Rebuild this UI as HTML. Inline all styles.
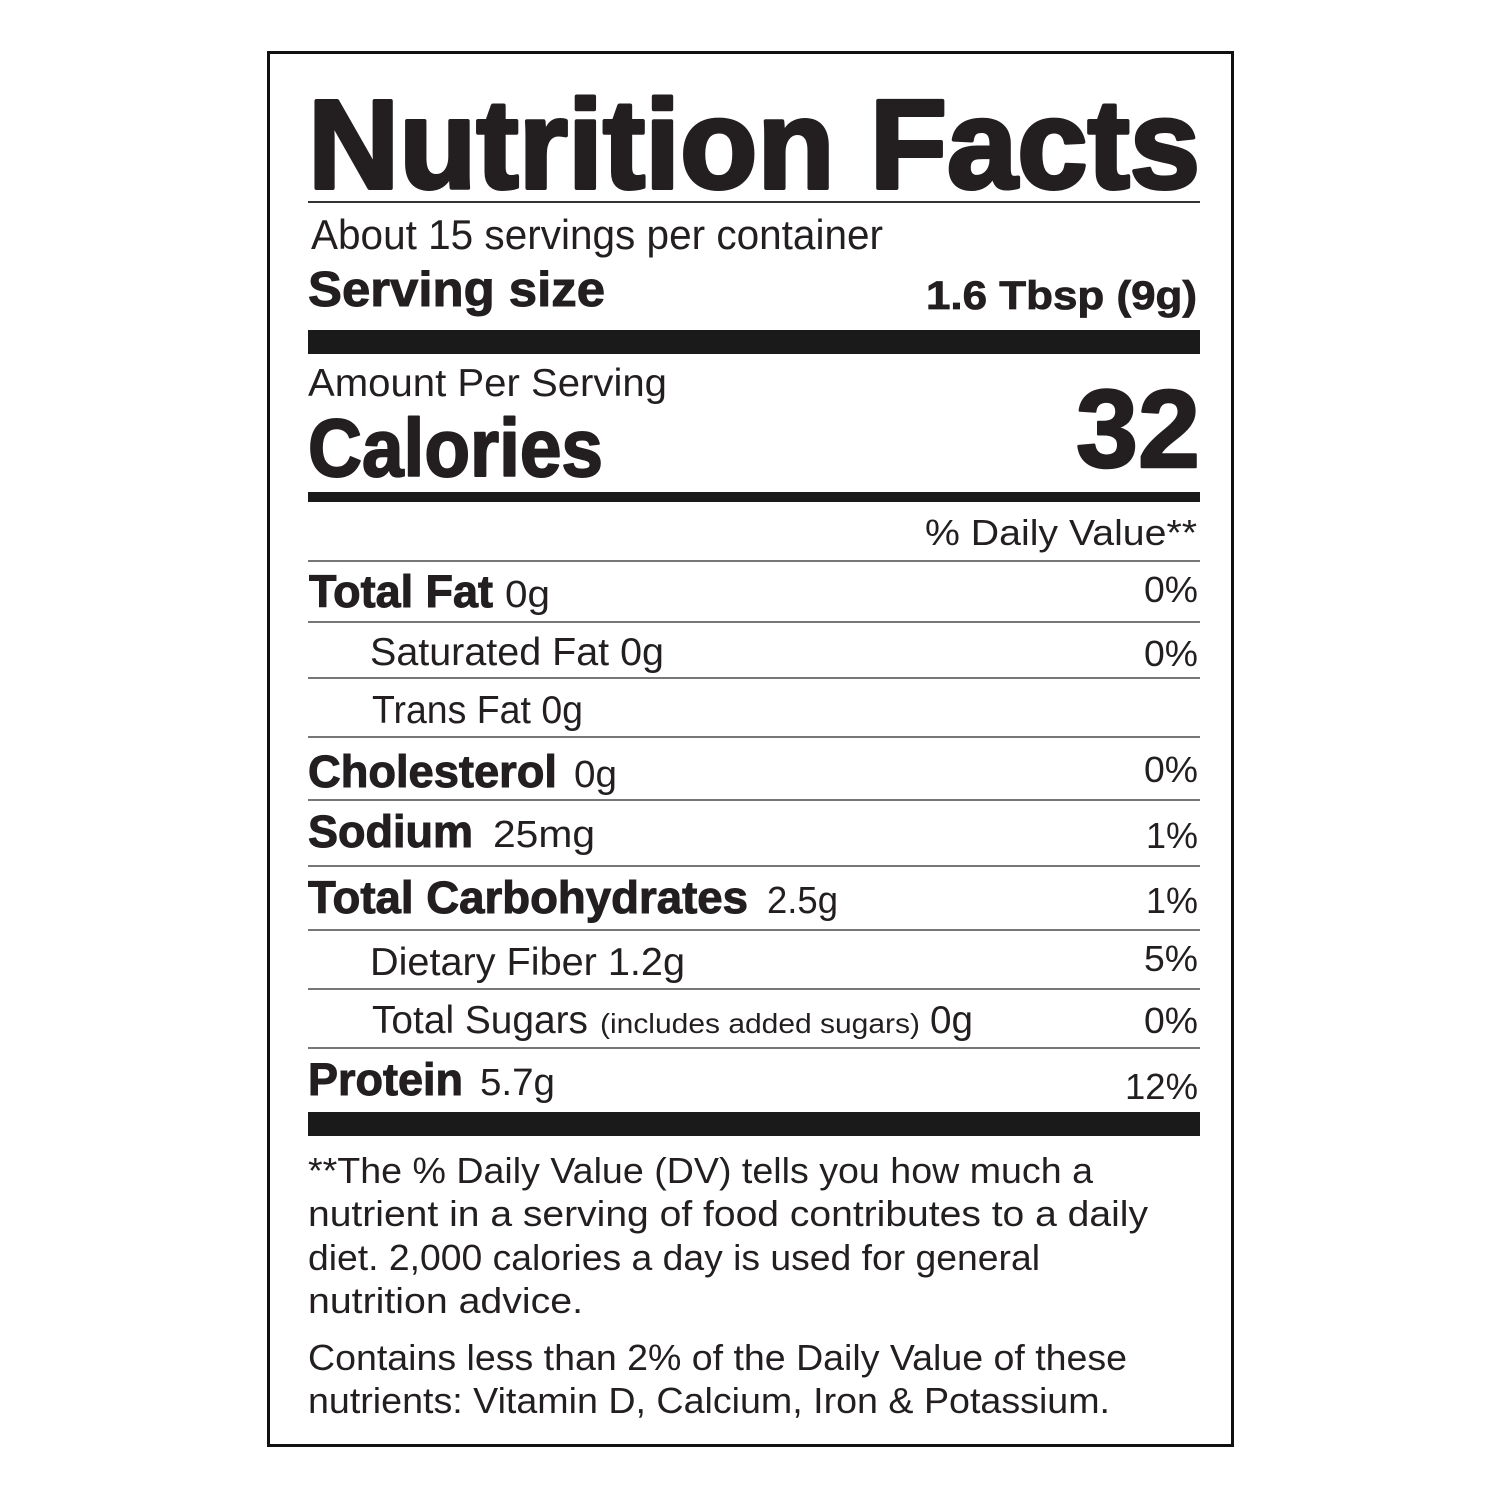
<!DOCTYPE html>
<html>
<head>
<meta charset="utf-8">
<style>
  html,body{margin:0;padding:0;background:#fff;}
  svg{display:block;}
  text{font-family:"Liberation Sans", sans-serif; fill:#231f20;}
  .b{font-weight:bold;}
</style>
</head>
<body>
<svg width="1500" height="1500" viewBox="0 0 1500 1500" xmlns="http://www.w3.org/2000/svg">
  <rect x="0" y="0" width="1500" height="1500" fill="#fff"/>
  <!-- outer border -->
  <rect x="268.5" y="52.5" width="964" height="1393" fill="none" stroke="#111" stroke-width="3"/>

  <!-- Title -->
  <text class="b" x="308" y="188" font-size="126" textLength="892" lengthAdjust="spacingAndGlyphs" stroke="#231f20" stroke-width="4" stroke-linejoin="round">Nutrition Facts</text>
  <rect x="308" y="201" width="892" height="2" fill="#333"/>

  <text x="311" y="249" font-size="42" textLength="572" lengthAdjust="spacingAndGlyphs">About 15 servings per container</text>
  <text class="b" x="308" y="306" font-size="49" textLength="297" lengthAdjust="spacingAndGlyphs" stroke="#231f20" stroke-width="1">Serving size</text>
  <text class="b" x="926" y="309" font-size="40" textLength="271" lengthAdjust="spacingAndGlyphs" stroke="#231f20" stroke-width="0.8">1.6 Tbsp (9g)</text>

  <rect x="308" y="330" width="892" height="24" fill="#1a1a1a"/>

  <text x="308" y="396" font-size="39" textLength="359" lengthAdjust="spacingAndGlyphs">Amount Per Serving</text>
  <text class="b" x="308" y="476" font-size="82" textLength="295" lengthAdjust="spacingAndGlyphs" stroke="#231f20" stroke-width="2" stroke-linejoin="round">Calories</text>
  <text class="b" x="1076" y="467" font-size="110" textLength="124" lengthAdjust="spacingAndGlyphs" stroke="#231f20" stroke-width="2.5" stroke-linejoin="round">32</text>

  <rect x="308" y="492" width="892" height="10" fill="#1a1a1a"/>

  <text x="925" y="545" font-size="36" textLength="272" lengthAdjust="spacingAndGlyphs">% Daily Value**</text>

  <!-- row separators -->
  <g fill="#777">
    <rect x="308" y="560" width="892" height="2"/>
    <rect x="308" y="621" width="892" height="2"/>
    <rect x="308" y="677" width="892" height="2"/>
    <rect x="308" y="736" width="892" height="2"/>
    <rect x="308" y="799" width="892" height="2"/>
    <rect x="308" y="865" width="892" height="2"/>
    <rect x="308" y="929" width="892" height="2"/>
    <rect x="308" y="988" width="892" height="2"/>
    <rect x="308" y="1047" width="892" height="2"/>
  </g>

  <!-- rows -->
  <text class="b" x="309" y="607" font-size="45" textLength="184" lengthAdjust="spacingAndGlyphs" stroke="#231f20" stroke-width="1">Total Fat</text>
  <text x="505" y="607" font-size="38" textLength="45" lengthAdjust="spacingAndGlyphs">0g</text>

  <text x="370" y="665" font-size="39" textLength="294" lengthAdjust="spacingAndGlyphs">Saturated Fat 0g</text>

  <text x="372" y="723" font-size="39" textLength="211" lengthAdjust="spacingAndGlyphs">Trans Fat 0g</text>

  <text class="b" x="308" y="787" font-size="45" textLength="249" lengthAdjust="spacingAndGlyphs" stroke="#231f20" stroke-width="1">Cholesterol</text>
  <text x="574" y="787" font-size="38" textLength="43" lengthAdjust="spacingAndGlyphs">0g</text>

  <text class="b" x="308" y="847" font-size="45" textLength="165" lengthAdjust="spacingAndGlyphs" stroke="#231f20" stroke-width="1">Sodium</text>
  <text x="493" y="847" font-size="38" textLength="102" lengthAdjust="spacingAndGlyphs">25mg</text>

  <text class="b" x="308" y="913" font-size="45" textLength="440" lengthAdjust="spacingAndGlyphs" stroke="#231f20" stroke-width="1">Total Carbohydrates</text>
  <text x="767" y="913" font-size="38" textLength="71" lengthAdjust="spacingAndGlyphs">2.5g</text>

  <text x="370" y="975" font-size="39" textLength="315" lengthAdjust="spacingAndGlyphs">Dietary Fiber 1.2g</text>

  <text x="372" y="1033" font-size="39" textLength="216" lengthAdjust="spacingAndGlyphs">Total Sugars</text>
  <text x="600" y="1033" font-size="28" textLength="320" lengthAdjust="spacingAndGlyphs">(includes added sugars)</text>
  <text x="930" y="1033" font-size="39" textLength="43" lengthAdjust="spacingAndGlyphs">0g</text>

  <text class="b" x="308" y="1095" font-size="45" textLength="155" lengthAdjust="spacingAndGlyphs" stroke="#231f20" stroke-width="1">Protein</text>
  <text x="480" y="1095" font-size="38" textLength="75" lengthAdjust="spacingAndGlyphs">5.7g</text>

  <!-- percentages -->
  <g font-size="36">
    <text x="1144" y="602" textLength="54" lengthAdjust="spacingAndGlyphs">0%</text>
    <text x="1144" y="666" textLength="54" lengthAdjust="spacingAndGlyphs">0%</text>
    <text x="1144" y="782" textLength="54" lengthAdjust="spacingAndGlyphs">0%</text>
    <text x="1146" y="848" textLength="52" lengthAdjust="spacingAndGlyphs">1%</text>
    <text x="1146" y="913" textLength="52" lengthAdjust="spacingAndGlyphs">1%</text>
    <text x="1144" y="971" textLength="54" lengthAdjust="spacingAndGlyphs">5%</text>
    <text x="1144" y="1033" textLength="54" lengthAdjust="spacingAndGlyphs">0%</text>
    <text x="1125" y="1099" textLength="73" lengthAdjust="spacingAndGlyphs">12%</text>
  </g>

  <rect x="308" y="1112" width="892" height="24" fill="#1a1a1a"/>

  <!-- footnotes -->
  <g font-size="36">
    <text x="308" y="1183" textLength="785" lengthAdjust="spacingAndGlyphs">**The % Daily Value (DV) tells you how much a</text>
    <text x="308" y="1226" textLength="840" lengthAdjust="spacingAndGlyphs">nutrient in a serving of food contributes to a daily</text>
    <text x="308" y="1270" textLength="732" lengthAdjust="spacingAndGlyphs">diet. 2,000 calories a day is used for general</text>
    <text x="308" y="1313" textLength="275" lengthAdjust="spacingAndGlyphs">nutrition advice.</text>
    <text x="308" y="1370" textLength="819" lengthAdjust="spacingAndGlyphs">Contains less than 2% of the Daily Value of these</text>
    <text x="308" y="1413" textLength="802" lengthAdjust="spacingAndGlyphs">nutrients: Vitamin D, Calcium, Iron &amp; Potassium.</text>
  </g>
</svg>
</body>
</html>
